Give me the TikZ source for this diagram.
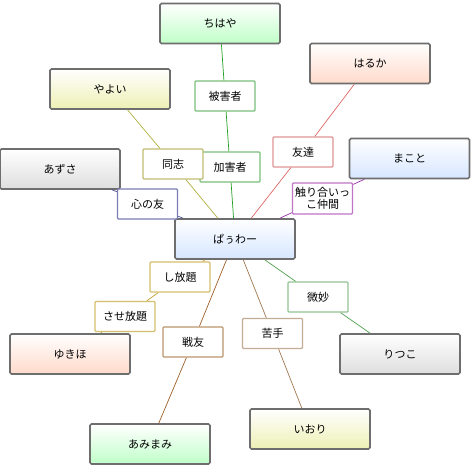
\documentclass[tikz,border=0pt]{standalone}
\usepackage{fontspec}
\setmainfont{Noto Sans CJK JP}
\definecolor{nodeborder}{HTML}{6E6E6E}
\definecolor{gGreen}{HTML}{C0FFC8}
\definecolor{gYellow}{HTML}{EEF0B4}
\definecolor{gGray}{HTML}{DEDEDE}
\definecolor{gPeach}{HTML}{FFDACA}
\definecolor{gBlue}{HTML}{D6E6FF}
% label borders
\definecolor{bGreen}{HTML}{78C078}
\definecolor{bOlive}{HTML}{BEBC70}
\definecolor{bNavy}{HTML}{7C7CB4}
\definecolor{bPink}{HTML}{E09494}
\definecolor{bMagenta}{HTML}{C074C4}
\definecolor{bGold}{HTML}{D4C06C}
\definecolor{bBrown}{HTML}{BC966C}
\definecolor{bLGreen}{HTML}{94C494}
\definecolor{bTan}{HTML}{C4AC94}
% line colours
\definecolor{lGreen}{HTML}{20A020}
\definecolor{lOlive}{HTML}{B0B040}
\definecolor{lNavy}{HTML}{505098}
\definecolor{lPink}{HTML}{E06868}
\definecolor{lMagenta}{HTML}{9830A8}
\definecolor{lGold}{HTML}{C0A030}
\definecolor{lBrown}{HTML}{A06028}
\definecolor{lTan}{HTML}{A07850}
\definecolor{lLGreen}{HTML}{50A050}
\tikzset{
  person/.style={draw=nodeborder, line width=1.6pt, rounded corners=1.5pt,
    minimum width=120pt, minimum height=40pt, inner sep=0pt,
    font=\fontsize{11}{13}\selectfont, top color=white},
  pgreen/.style={person, bottom color=gGreen},
  pyellow/.style={person, bottom color=gYellow},
  pgray/.style={person, bottom color=gGray},
  ppeach/.style={person, bottom color=gPeach},
  pblue/.style={person, bottom color=gBlue},
  rel/.style={draw=#1, fill=white, line width=1.4pt, rounded corners=1pt,
    minimum width=60pt, minimum height=30pt, inner sep=0pt, align=center,
    font=\fontsize{11}{12.5}\selectfont},
  link/.style={draw=#1, line width=0.7pt}
}
\begin{document}
\begin{tikzpicture}[x=1pt,y=-1pt]
\useasboundingbox (0,0) rectangle (470,470);
\fill[white] (0,0) rectangle (470,470);
% people
\node[pgreen]  (chihaya) at (220,23.5) {ちはや};
\node[pyellow] (yayoi)   at (110,89)   {やよい};
\node[pgray]   (azusa)   at (60,169)   {あずさ};
\node[ppeach]  (haruka)  at (370,63.5) {はるか};
\node[pblue]   (makoto)  at (409.5,158.5) {まこと};
\node[pblue]   (powa)    at (235,239)  {ぱぅわー};
\node[ppeach]  (yukiho)  at (70,354)   {ゆきほ};
\node[pgreen]  (amimami) at (150,444)  {あみまみ};
\node[pgray]   (ritsuko) at (400,354)  {りつこ};
\node[pyellow] (iori)    at (310,429)  {いおり};
% relation labels
\node[rel=bGreen] (higai)  at (225,96)  {被害者};
\node[rel=bGreen] (kagai)  at (230,167) {加害者};
\node[rel=bOlive] (doushi) at (173,164) {同志};
\node[rel=bNavy] (kokoro) at (147.5,204) {心の友};
\node[rel=bPink] (tomo)   at (303,152) {友達};
\node[rel=bMagenta, minimum height=31pt] (sawari) at (322.5,198.5) {触り合いっ\\こ仲間};
\node[rel=bGold] (shihou) at (180,277) {し放題};
\node[rel=bGold] (sasehou) at (125,316.5) {させ放題};
\node[rel=bBrown] (senyu)  at (193,342) {戦友};
\node[rel=bLGreen] (bimyo)  at (318,297) {微妙};
\node[rel=bTan] (nigate) at (272.5,333.5) {苦手};
% connectors
\draw[link=lGreen] (chihaya) -- (higai);
\draw[link=lGreen] (higai) -- (kagai);
\draw[link=lGreen] (kagai) -- (powa);
\draw[link=lOlive] (yayoi) -- (doushi);
\draw[link=lOlive] (doushi) -- (powa);
\draw[link=lNavy] (azusa) -- (kokoro);
\draw[link=lNavy] (kokoro) -- (powa);
\draw[link=lPink] (haruka) -- (tomo);
\draw[link=lPink] (tomo) -- (powa);
\draw[link=lMagenta] (makoto) -- (sawari);
\draw[link=lMagenta] (sawari) -- (powa);
\draw[link=lGold] (powa) -- (shihou);
\draw[link=lGold] (shihou) -- (sasehou);
\draw[link=lGold] (sasehou) -- (yukiho);
\draw[link=lBrown] (powa) -- (senyu);
\draw[link=lBrown] (senyu) -- (amimami);
\draw[link=lTan] (powa) -- (nigate);
\draw[link=lTan] (nigate) -- (iori);
\draw[link=lLGreen] (powa) -- (bimyo);
\draw[link=lLGreen] (bimyo) -- (ritsuko);
\end{tikzpicture}
\end{document}
